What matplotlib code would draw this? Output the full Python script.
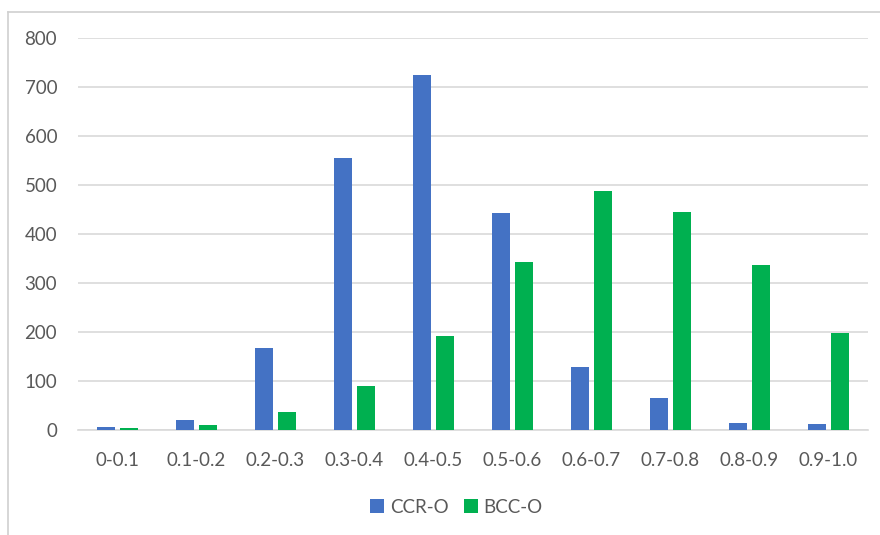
import numpy as np
import matplotlib.pyplot as plt
from matplotlib.lines import Line2D

# bin labels and counts for the two distributions
bins = ["0-0.1", "0.1-0.2", "0.2-0.3", "0.3-0.4", "0.4-0.5",
        "0.5-0.6", "0.6-0.7", "0.7-0.8", "0.8-0.9", "0.9-1.0"]
ccr_o = [6, 20, 167, 555, 724, 443, 129, 65, 14, 12]
bcc_o = [4, 10, 37, 90, 192, 343, 488, 444, 337, 198]
yticks = [0, 100, 200, 300, 400, 500, 600, 700, 800]

blue = "#4472C4"
green = "#00B050"
text_grey = "#595959"

plt.rcParams['font.family'] = ['Lato', 'DejaVu Sans']

fig = plt.figure(figsize=(8.8, 5.35), dpi=100)
ax = fig.add_axes([78/880, 105/535, 790/880, 392/535])

x = np.arange(len(bins))
w = 0.23
ax.bar(x - 0.146, ccr_o, width=w, color=blue, label="CCR-O", zorder=3)
ax.bar(x + 0.146, bcc_o, width=w, color=green, label="BCC-O", zorder=3)

ax.set_xlim(-0.5, len(bins) - 0.5)
ax.set_ylim(0, 800)
ax.set_yticks(yticks)
ax.set_xticks(x)
ax.set_xticklabels(bins)

# light horizontal gridlines, no frame
ax.grid(axis='y', color="#D9D9D9", linewidth=1.2, zorder=0)
for s in ax.spines.values():
    s.set_visible(False)
ax.spines['bottom'].set_visible(True)
ax.spines['bottom'].set_color("#D9D9D9")
ax.spines['bottom'].set_linewidth(1.2)
ax.tick_params(axis='both', length=0, labelsize=13.5, colors=text_grey)
ax.tick_params(axis='y', pad=15)
ax.tick_params(axis='x', pad=16)

ax.legend(loc='center', bbox_to_anchor=(0.479, -0.197), ncol=2, frameon=False,
          fontsize=13.5, labelcolor=text_grey, handlelength=0.75, handleheight=0.75,
          handletextpad=0.3, columnspacing=0.8)

# chart area border
fig.add_artist(Line2D([8/880, 8/880], [0, 1 - 12/535], color="#D0D0D0", linewidth=1.2))
fig.add_artist(Line2D([8/880, 1], [1 - 12/535, 1 - 12/535], color="#D0D0D0", linewidth=1.2))

fig.savefig("out.png", dpi=100)
